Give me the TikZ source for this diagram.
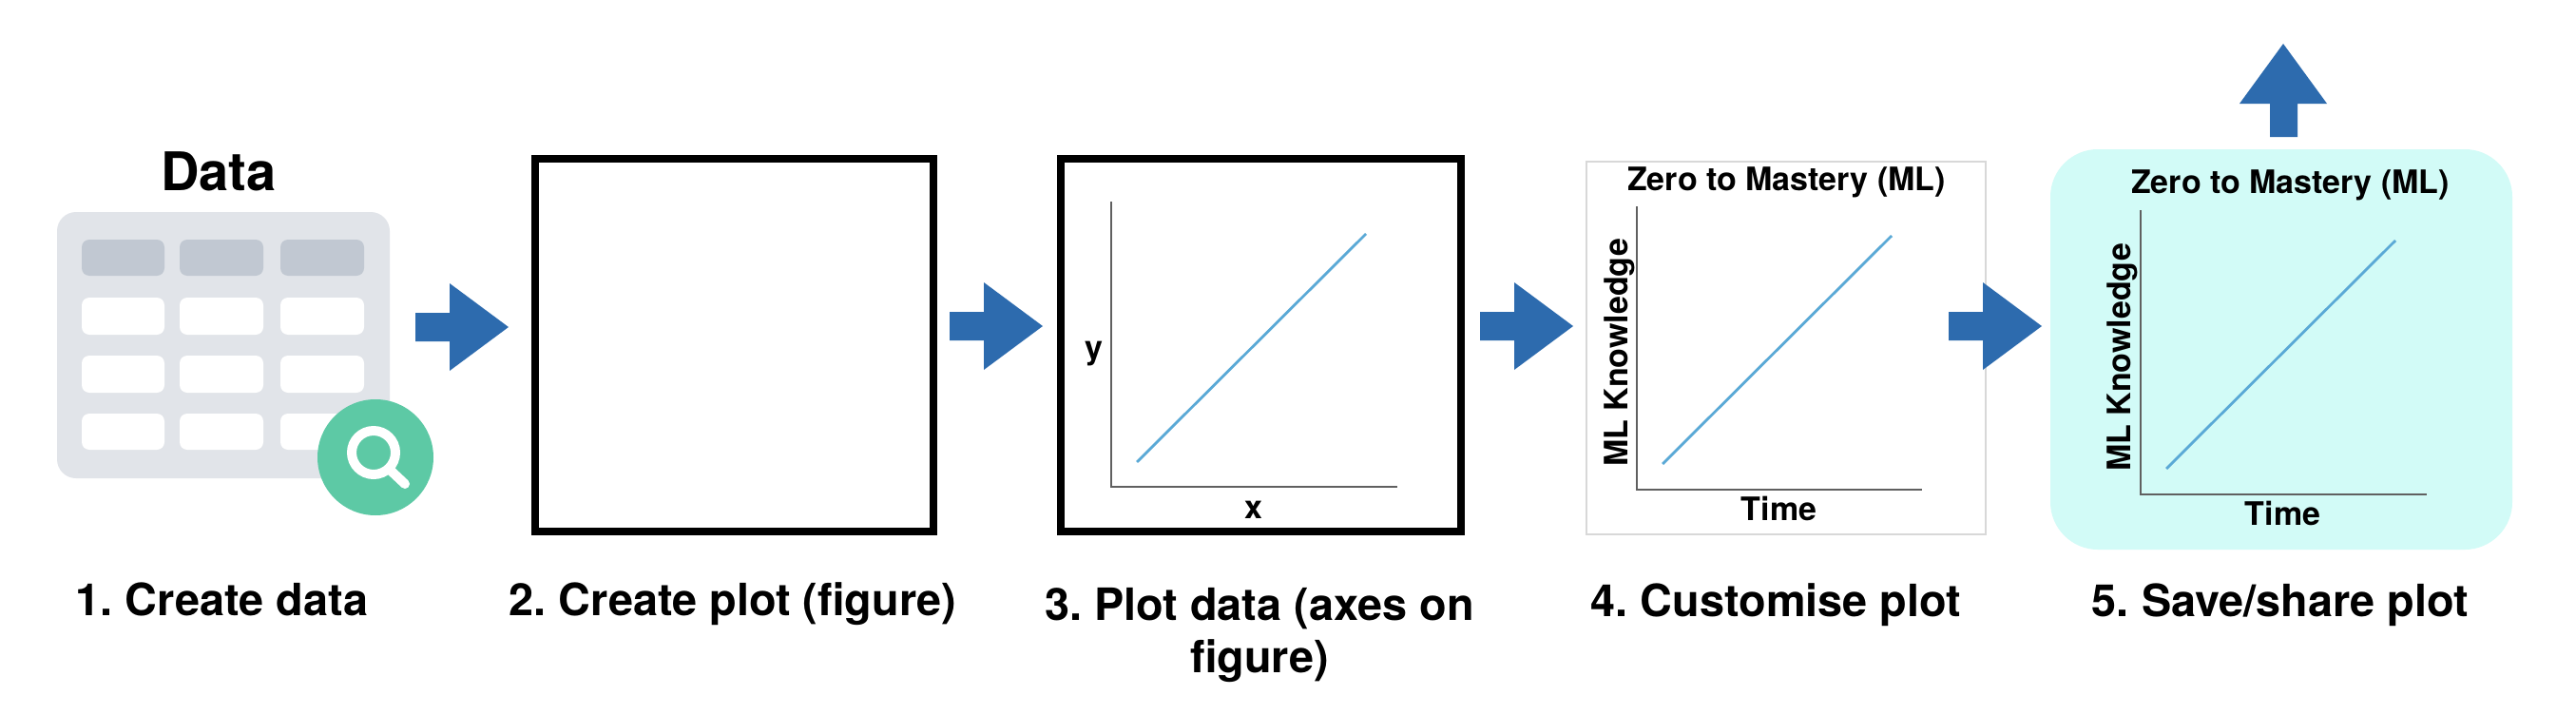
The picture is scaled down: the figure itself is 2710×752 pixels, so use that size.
\documentclass[tikz,border=0pt]{standalone}
\usepackage{fontspec}
\setmainfont{TeX Gyre Heros}[Ligatures=TeX]
\definecolor{arrowblue}{HTML}{2D6BAE}
\definecolor{tablegrey}{HTML}{E1E4E9}
\definecolor{headgrey}{HTML}{C1C8D2}
\definecolor{lensgreen}{HTML}{5DC9A5}
\definecolor{lineblue}{HTML}{5AA9D6}
\definecolor{axisgrey}{HTML}{606060}
\definecolor{savecyan}{HTML}{D2FBF7}
\definecolor{thinborder}{HTML}{D8D8D8}
\tikzset{
  x=1pt,y=-1pt,
  label46/.style={anchor=base,inner sep=0pt,font=\frenchspacing\fontsize{46.8}{50}\selectfont\bfseries},
  plottext/.style={anchor=base,inner sep=0pt,font=\frenchspacing\fontsize{34}{38}\selectfont\bfseries},
  axisline/.style={draw=axisgrey,line width=2.6pt,line cap=butt,line join=miter},
  dataline/.style={draw=lineblue,line width=2.8pt},
  figframe/.style={draw=black,line width=8pt},
  rarrow/.pic={\fill[arrowblue] (-98,-15)--(-62,-15)--(-62,-46)--(0,0)--(-62,46)--(-62,15)--(-98,15)--cycle;},
}
\begin{document}
\begin{tikzpicture}
\useasboundingbox[fill=white] (0,0) rectangle (2710,752);
% data table
\node[anchor=base,inner sep=0pt,font=\fontsize{56}{60}\selectfont\bfseries] (dataTitle) at (230,200) {Data};
\fill[tablegrey,rounded corners=20pt] (60,223) rectangle (410,503);
\foreach \xa/\xb in {86/173,189/277,295/383}{
  \fill[headgrey,rounded corners=8pt] (\xa,252) rectangle (\xb,290);
  \foreach \ya/\yb in {313/352,374/413,435/473}{
    \fill[white,rounded corners=8pt] (\xa,\ya) rectangle (\xb,\yb);
  }
}
\fill[lensgreen] (395,481) circle[radius=61pt];
\draw[white,line width=10pt] (393,476) circle[radius=23pt];
\draw[white,line width=10pt,line cap=round] (409,493) -- (426,509);
% figure 2
\draw[figframe] (563,167) rectangle (982,559);
% figure 3
\draw[figframe] (1116,167) rectangle (1537,559);
\draw[axisline] (1169,212) -- (1169,512) -- (1470,512);
\draw[dataline] (1196,486) -- (1437,246);
\node[plottext] (ylab) at (1151,377) {y};
\node[plottext] (xlab) at (1319,545) {x};
% figure 4
\draw[thinborder,line width=2pt] (1669.3,170) rectangle (2089,562);
\draw[axisline] (1722,217) -- (1722,515) -- (2022,515);
\draw[dataline] (1749,488) -- (1990,248);
\node[plottext] (titleD) at (1879.5,200) {Zero to Mastery (ML)};
\node[plottext] (timeD) at (1871.5,547) {Time};
\node[plottext,rotate=90] (mlD) at (1712,371) {ML Knowledge};
% figure 5
\fill[savecyan,rounded corners=50pt] (2157,157) rectangle (2643,578);
\draw[axisline] (2252,221) -- (2252,520) -- (2553,520);
\draw[dataline] (2279,493) -- (2520,253);
\node[plottext] (titleE) at (2409.5,203) {Zero to Mastery (ML)};
\node[plottext] (timeE) at (2401.5,552) {Time};
\node[plottext,rotate=90] (mlE) at (2241,376) {ML Knowledge};
% arrows
\pic at (535,344) {rarrow};
\pic at (1097,343) {rarrow};
\pic at (1655,343) {rarrow};
\pic at (2148,343) {rarrow};
\fill[arrowblue] (2402,46)--(2448,109)--(2417,109)--(2417,144)--(2388,144)--(2388,109)--(2356,109)--cycle;
% captions
\node[label46] (capA) at (233.5,647) {1. Create data};
\node[label46] (capB) at (771,647) {2. Create plot (figure)};
\node[label46] (capC) at (1325,652) {3. Plot data (axes on};
\node[label46] (capCb) at (1325,707) {figure)};
\node[label46] (capD) at (1868.5,648) {4. Customise plot};
\node[label46] (capE) at (2399,648) {5. Save/share plot};
\end{tikzpicture}
\end{document}
